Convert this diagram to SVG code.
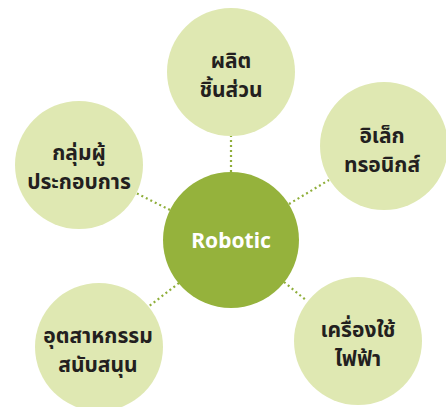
<svg xmlns="http://www.w3.org/2000/svg" width="446" height="407" viewBox="0 0 446 407">
<style>
.link{stroke:#8fae3a;stroke-width:2.2;stroke-dasharray:2 3;fill:none}
.outer{fill:#dfe8b2}
.hub{fill:#95b23c}
.t{font-family:"Noto Sans Thai","Noto Sans","DejaVu Sans",sans-serif;font-size:21px;font-weight:700;fill:#231f20;text-anchor:middle}
.c{font-family:"Noto Sans","Liberation Sans",sans-serif;font-size:21px;font-weight:700;fill:#ffffff;text-anchor:middle}
</style>
<rect width="446" height="407" fill="#ffffff"/>
<g id="connectors">
<line class="link" x1="231" y1="172" x2="231" y2="136"/>
<line class="link" x1="289" y1="204" x2="329" y2="180"/>
<line class="link" x1="170" y1="210" x2="136" y2="193"/>
<line class="link" x1="179" y1="283" x2="148" y2="307"/>
<line class="link" x1="284" y1="282" x2="307" y2="301"/>
</g>
<g id="robotic">
<circle class="hub" cx="231" cy="240" r="68"/>
<text class="c" x="231" y="248">Robotic</text>
</g>
<g id="parts">
<circle class="outer" cx="231" cy="72" r="64"/>
<text class="t" x="231" y="68">ผลิต</text>
<text class="t" x="231" y="97">ชิ้นส่วน</text>
</g>
<g id="electronics">
<circle class="outer" cx="384" cy="146" r="64"/>
<text class="t" x="382" y="143">อิเล็ก</text>
<text class="t" x="382" y="172">ทรอนิกส์</text>
</g>
<g id="operators">
<circle class="outer" cx="79" cy="165" r="64"/>
<text class="t" x="79" y="160">กลุ่มผู้</text>
<text class="t" x="79" y="189">ประกอบการ</text>
</g>
<g id="support">
<circle class="outer" cx="99" cy="347" r="64"/>
<text class="t" x="98" y="343">อุตสาหกรรม</text>
<text class="t" x="98" y="372">สนับสนุน</text>
</g>
<g id="appliances">
<circle class="outer" cx="358" cy="341" r="64"/>
<text class="t" x="358" y="337">เครื่องใช้</text>
<text class="t" x="358" y="366">ไฟฟ้า</text>
</g>
</svg>
